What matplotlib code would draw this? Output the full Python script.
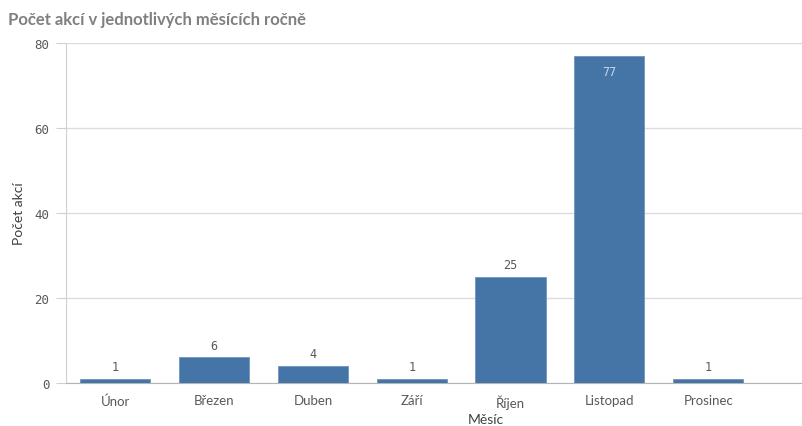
import matplotlib
matplotlib.use("Agg")
import matplotlib.pyplot as plt

months = ["Únor", "Březen", "Duben", "Září", "Říjen", "Listopad", "Prosinec"]
counts = [1, 6, 4, 1, 25, 77, 1]
y_ticks = [0, 20, 40, 60, 80]

bar_color = "#4475a6"
text_gray = "#595959"

fig = plt.figure(figsize=(8.02, 4.27), dpi=100)
ax = fig.add_axes([0.0823, 0.1007, 0.9177, 0.7963])

x = list(range(len(months)))
ax.bar(x, counts, width=0.71, color=bar_color, edgecolor="#6f95bd", linewidth=0.6, zorder=3)

for xi, v in zip(x, counts):
    if v > 60:
        ax.text(xi, v - 2.2, str(v), ha="center", va="top", fontsize=8.5,
                family="DejaVu Sans Mono", color="#c9d6e6", zorder=4)
    else:
        ax.text(xi, v + 1.3, str(v), ha="center", va="bottom", fontsize=8.5,
                family="DejaVu Sans Mono", color=text_gray, zorder=4)

ax.set_xlim(-0.5, 6.95)
ax.set_ylim(0, 80)
ax.set_yticks(y_ticks)
ax.set_yticklabels([str(t) for t in y_ticks], family="DejaVu Sans Mono", fontsize=9, color=text_gray)
ax.set_xticks(x)
ax.set_xticklabels(months, family="Lato", fontsize=9.5, color=text_gray)
ax.tick_params(axis="x", length=0, pad=8)
ax.tick_params(axis="y", length=7, color="#d0d0d0", pad=5)

ax.grid(axis="y", color="#dcdcdc", linewidth=1, zorder=0)
for s in ["top", "right"]:
    ax.spines[s].set_visible(False)
ax.spines["left"].set_color("#d0d0d0")
ax.spines["bottom"].set_color("#b5b5b5")

# x label sits very close to the bottom edge, place it by hand
fig.text(0.606, 0.006, "Měsíc", family="Lato", fontsize=10, color="#404040",
         ha="center", va="baseline")
ax.set_ylabel("Počet akcí", family="Lato", fontsize=10, color="#404040", labelpad=7)

fig.text(0.01, 0.953, "Počet akcí v jednotlivých měsících ročně", family="Lato",
         fontsize=12, fontweight="bold", color="#808080", va="center")

fig.savefig("out.png", dpi=100)
